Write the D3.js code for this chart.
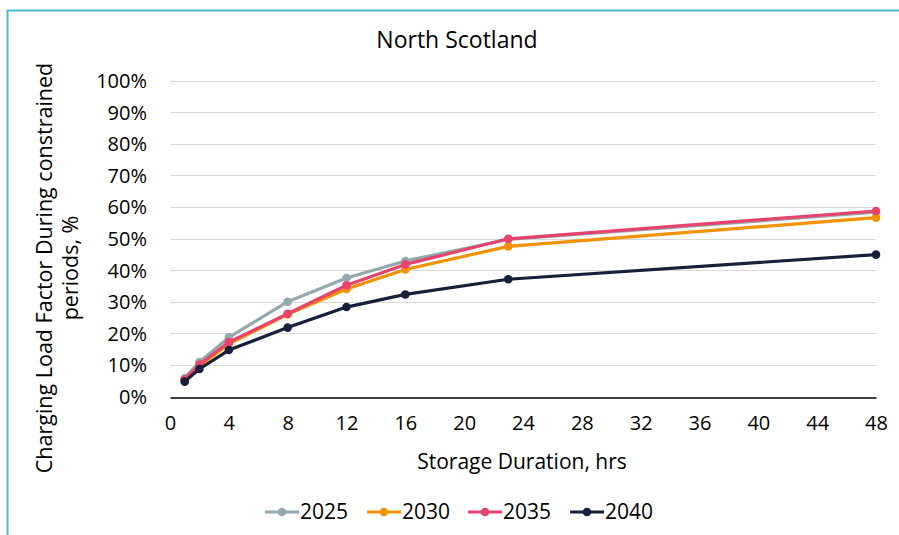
<!DOCTYPE html>
<html><head><meta charset="utf-8">
<script src="https://cdn.jsdelivr.net/npm/d3@7"></script>
<style>
html,body{margin:0;padding:0;background:#fff;}
svg text{font-family:"Open Sans",sans-serif;fill:#000;}
</style></head>
<body><svg id="c" width="899" height="535"></svg>
<script>
const title = "North Scotland";
const durations = [1, 2, 4, 8, 12, 16, 23, 48];
const seriesNames = ["2025", "2030", "2035", "2040"];
const s2025 = [0.058, 0.109, 0.187, 0.300, 0.375, 0.429, 0.497, 0.583];
const s2030 = [0.052, 0.097, 0.166, 0.260, 0.340, 0.402, 0.475, 0.566];
const s2035 = [0.054, 0.101, 0.172, 0.262, 0.352, 0.418, 0.499, 0.587];
const s2040 = [0.047, 0.087, 0.147, 0.218, 0.283, 0.323, 0.371, 0.449];
const colors = ["#93A9AC", "#F39200", "#E8436E", "#172038"];
const xTicks = [0,4,8,12,16,20,24,28,32,36,40,44,48];
const yTicks = [0,0.1,0.2,0.3,0.4,0.5,0.6,0.7,0.8,0.9,1.0];
const xLabel = "Storage Duration, hrs";
const yLabel1 = "Charging Load Factor During constrained";
const yLabel2 = "periods, %";

const series = [s2025, s2030, s2035, s2040].map((v,i)=>({name:seriesNames[i], color:colors[i], values:v.map((y,j)=>({x:durations[j], y}))}));

const svg = d3.select("#c");
// frame
svg.append("line").attr("x1",7.5).attr("x2",899).attr("y1",10.5).attr("y2",10.5).attr("stroke","#4BBCC8").attr("stroke-width",2);
svg.append("line").attr("x1",7.5).attr("x2",7.5).attr("y1",10).attr("y2",535).attr("stroke","#4BBCC8").attr("stroke-width",2);

const x = d3.scaleLinear().domain([0,48]).range([170,876]);
const y = d3.scaleLinear().domain([0,1]).range([396.5,80.5]);

// gridlines
svg.append("g").selectAll("line").data(yTicks.filter(d=>d>0)).join("line")
  .attr("x1",170).attr("x2",876).attr("y1",d=>Math.round(y(d))+0.5).attr("y2",d=>Math.round(y(d))+0.5)
  .attr("stroke","#D9D9D9").attr("stroke-width",1);

// y axis labels
const yAxis = d3.axisLeft(y).tickValues(yTicks).tickFormat(d3.format(".0%")).tickSize(0).tickPadding(0);
const gy = svg.append("g").attr("transform","translate(147,0)").call(yAxis);
gy.select(".domain").remove();
gy.selectAll("text").attr("font-size",20).attr("font-family","Open Sans").attr("fill","#000").attr("dy","0.35em");

// x axis
const xAxis = d3.axisBottom(x).tickValues(xTicks).tickSize(0).tickPadding(18);
const gx = svg.append("g").attr("transform",`translate(0,${Math.round(y(0))+0.5})`).call(xAxis);
gx.select(".domain").attr("stroke","#000").attr("stroke-width",1.3);
gx.selectAll("text").attr("font-size",20).attr("font-family","Open Sans").attr("fill","#000");

// lines
const line = d3.line().x(d=>x(d.x)).y(d=>y(d.y));
const g = svg.append("g");
series.forEach(s=>{
  g.append("path").datum(s.values).attr("d",line).attr("fill","none").attr("stroke",s.color).attr("stroke-width",3.2).attr("stroke-linejoin","round");
  g.selectAll(null).data(s.values).join("circle").attr("cx",d=>x(d.x)).attr("cy",d=>y(d.y)).attr("r",4.3).attr("fill",s.color);
});

// title
svg.append("text").attr("x",457).attr("y",48).attr("text-anchor","middle").attr("font-size",23).text(title);
// x label
svg.append("text").attr("x",522).attr("y",469).attr("text-anchor","middle").attr("font-size",21).text(xLabel);
// y label
const yl = svg.append("text").attr("transform","translate(52,268) rotate(-90)").attr("text-anchor","middle").attr("font-size",21.5);
yl.append("tspan").attr("x",0).attr("y",0).text(yLabel1);
yl.append("tspan").attr("x",0).attr("y",26).text(yLabel2);

// legend
const legX = [265, 367, 468, 570];
const lg = svg.append("g");
series.forEach((s,i)=>{
  const gg = lg.append("g").attr("transform",`translate(${legX[i]},512)`);
  gg.append("line").attr("x1",0).attr("x2",34).attr("y1",0).attr("y2",0).attr("stroke",s.color).attr("stroke-width",3.2);
  gg.append("circle").attr("cx",17).attr("cy",0).attr("r",4.3).attr("fill",s.color);
  gg.append("text").attr("x",35).attr("y",0).attr("dy","0.35em").attr("font-size",21).text(s.name);
});
</script></body></html>
